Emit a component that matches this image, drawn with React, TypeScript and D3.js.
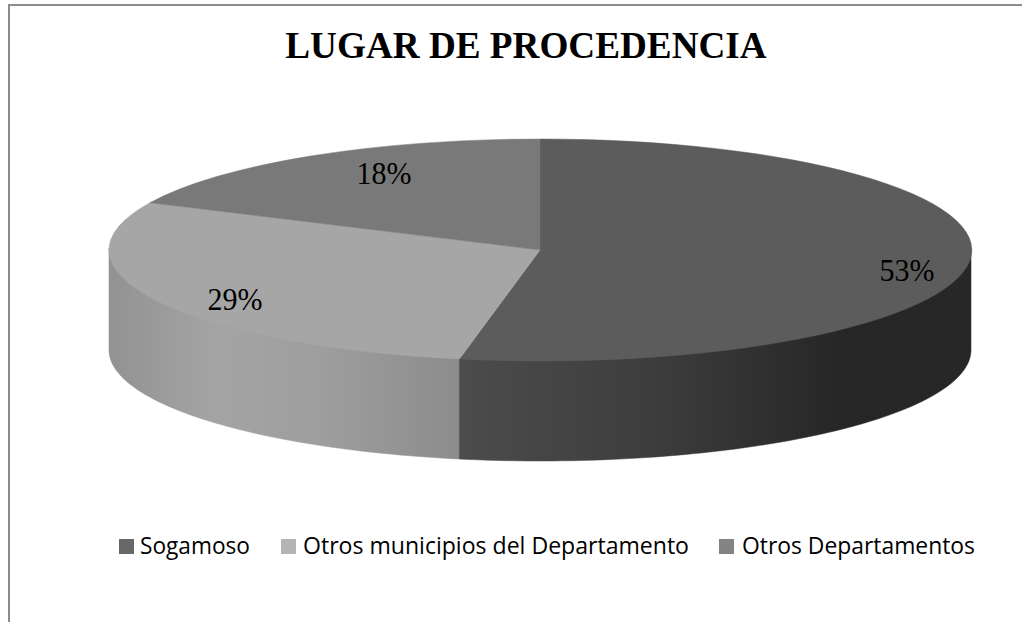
import React from "react";
import * as d3 from "d3";

const title = "LUGAR DE PROCEDENCIA";
const categories = ["Sogamoso", "Otros municipios del Departamento", "Otros Departamentos"];
const values = [53, 29, 18];
const topColors = ["#5c5c5c", "#a6a6a6", "#797979"];
const legendColors = ["#686868", "#b4b4b4", "#848484"];
const darkWall = ["#4c4c4c", "#3c3c3c", "#262626", "#272727"];
const lightWall = ["#929292", "#a4a4a4", "#9e9e9e", "#8c8c8c"];
const wallStopOffsets = [0, 0.4, 0.75, 1];
const lightStopOffsets = [0, 0.3, 0.6, 1];

export default function App() {
  const cx = 540, cy = 250, rx = 431, ry = 111, depth = 100;
  const arcs = d3.pie<number>().sort(null)(values);
  const arcGen = d3.arc<any>().innerRadius(0).outerRadius(1);
  const pt = (a: number) => [cx + rx * Math.sin(a), cy - ry * Math.cos(a)];

  const wall = (a0: number, a1: number) => {
    const lo = Math.max(a0, Math.PI / 2);
    const hi = Math.min(a1, (3 * Math.PI) / 2);
    if (lo >= hi) return "";
    const n = 80;
    const angs = d3.range(n + 1).map((i) => lo + ((hi - lo) * i) / n);
    const top = angs.map((a) => { const p = pt(a); return [p[0], p[1] - 2]; });
    const bot = angs.map((a) => { const p = pt(a); return [p[0], p[1] + depth]; }).reverse();
    return d3.line()([...top, ...bot] as [number, number][]) + "Z";
  };

  const legend = [
    { sx: 119, tx: 140, tw: 110 },
    { sx: 281, tx: 303, tw: 386 },
    { sx: 719, tx: 742, tw: 233 },
  ];
  const labels = [
    { x: 907, y: 281 },
    { x: 235, y: 310 },
    { x: 384, y: 184 },
  ];

  return (
    <svg width={1022} height={622} style={{ position: "absolute", left: 0, top: 0, background: "#fff" }}>
      <defs>
        <linearGradient id="wall0" x1="0" x2="1" y1="0" y2="0">
          {darkWall.map((c, j) => <stop key={j} offset={wallStopOffsets[j]} stopColor={c} />)}
        </linearGradient>
        <linearGradient id="wall1" x1="0" x2="1" y1="0" y2="0">
          {lightWall.map((c, j) => <stop key={j} offset={lightStopOffsets[j]} stopColor={c} />)}
        </linearGradient>
      </defs>
      <path d="M1022 5H9V622" fill="none" stroke="#8c8c8c" strokeWidth={2} />
      <text x={526} y={58} textAnchor="middle" fontFamily="Liberation Serif" fontWeight="bold" fontSize={37.2} fill="#000">{title}</text>
      {arcs.map((a, i) => i).reverse().map((i) => {
        const a = arcs[i];
        const d = wall(a.startAngle, a.endAngle);
        return d ? <path key={i} d={d} fill={`url(#wall${i})`} stroke={`url(#wall${i})`} strokeWidth={0.5} /> : null;
      })}
      {arcs.map((a, i) => (
        <path key={i} d={arcGen(a) as string} transform={`translate(${cx},${cy}) scale(${rx},${ry})`} fill={topColors[i]} stroke={topColors[i]} strokeWidth={0.5} vectorEffect="non-scaling-stroke" />
      ))}
      {values.map((v, i) => (
        <text key={i} x={labels[i].x} y={labels[i].y} textAnchor="middle" fontFamily="Liberation Serif" fontSize={32} textLength={55} lengthAdjust="spacingAndGlyphs" fill="#000">{v}%</text>
      ))}
      {categories.map((c, i) => (
        <g key={c}>
          <rect x={legend[i].sx} y={539} width={15} height={15} fill={legendColors[i]} />
          <text x={legend[i].tx} y={554} fontFamily="Open Sans" fontSize={23} textLength={legend[i].tw} lengthAdjust="spacingAndGlyphs" fill="#000">{c}</text>
        </g>
      ))}
    </svg>
  );
}
